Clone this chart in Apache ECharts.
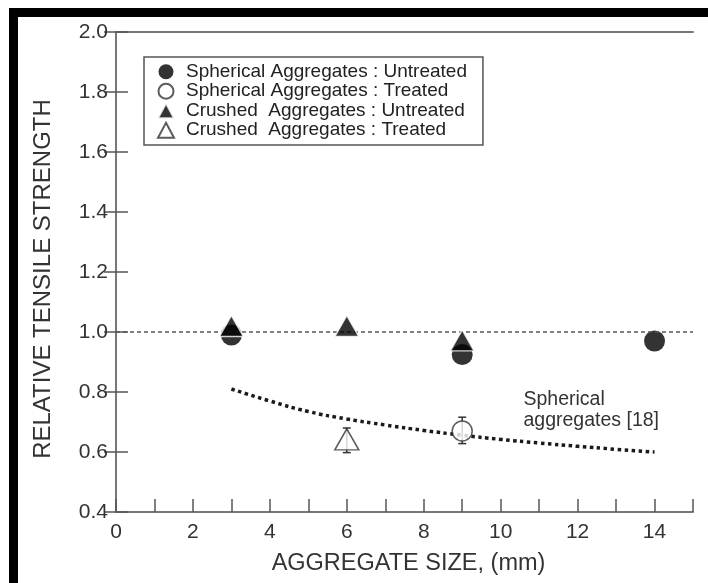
<!DOCTYPE html>
<html>
<head>
<meta charset="utf-8">
<script src="https://cdn.jsdelivr.net/npm/echarts@6/dist/echarts.min.js"></script>
<style>
  html, body { margin: 0; padding: 0; background: #fff; }
  #chart { width: 708px; height: 583px; }
</style>
</head>
<body>
<div id="chart"></div>
<script>
// Aggregate sizes (mm) and relative tensile strength for each test group
const sphericalUntreatedX = [3, 9, 14];
const sphericalUntreatedY = [0.99, 0.925, 0.97];

const sphericalTreatedX = [9];
const sphericalTreatedY = [0.67];
const sphericalTreatedLow = [0.628];
const sphericalTreatedHigh = [0.716];

const crushedUntreatedX = [3, 6, 9];
const crushedUntreatedY = [1.02, 1.02, 0.972];

const crushedTreatedX = [6];
const crushedTreatedY = [0.642];
const crushedTreatedLow = [0.598];
const crushedTreatedHigh = [0.68];

// Reference curve for spherical aggregates [18]
const refCurveX = [3, 4, 5, 6, 7, 8, 9, 10, 11, 12, 13, 14];
const refCurveY = [0.81, 0.77, 0.735, 0.71, 0.69, 0.672, 0.656, 0.642, 0.63, 0.619, 0.609, 0.6];

const referenceLevel = 1.0;

const xTicks = [0, 2, 4, 6, 8, 10, 12, 14];

const seriesNames = [
  'Spherical Aggregates : Untreated',
  'Spherical Aggregates : Treated',
  'Crushed  Aggregates : Untreated',
  'Crushed  Aggregates : Treated'
];

const zip = (xs, ys) => xs.map((x, i) => [x, ys[i]]);
const zip3 = (xs, lo, hi) => xs.map((x, i) => [x, lo[i], hi[i]]);

const SANS = '"Liberation Sans", Arial, sans-serif';
const AXIS_GRAY = '#777';

function errorBar(params, api) {
  const x = api.value(0);
  const lo = api.coord([x, api.value(1)]);
  const hi = api.coord([x, api.value(2)]);
  const cap = 4;
  const style = { stroke: '#333', lineWidth: 1.5 };
  return {
    type: 'group',
    children: [
      { type: 'line', shape: { x1: lo[0], y1: lo[1], x2: hi[0], y2: hi[1] }, style },
      { type: 'line', shape: { x1: lo[0] - cap, y1: lo[1], x2: lo[0] + cap, y2: lo[1] }, style },
      { type: 'line', shape: { x1: hi[0] - cap, y1: hi[1], x2: hi[0] + cap, y2: hi[1] }, style }
    ]
  };
}

const chart = echarts.init(document.getElementById('chart'), null, { renderer: 'canvas' });

chart.setOption({
  backgroundColor: '#fff',
  animation: false,
  grid: { left: 116, top: 32, width: 577, height: 480, containLabel: false },
  legend: {
    orient: 'vertical',
    left: 144,
    top: 57,
    padding: [5, 16, 5, 13],
    itemGap: 0,
    itemWidth: 16,
    itemHeight: 15,
    symbolKeepAspect: true,
    borderColor: '#555',
    borderWidth: 1.5,
    backgroundColor: '#fff',
    textStyle: {
      fontFamily: SANS, fontSize: 19, lineHeight: 19.5, color: '#222',
      padding: [0, 0, 0, 7]
    },
    data: seriesNames
  },
  xAxis: [{
    type: 'value',
    min: 0, max: 15, interval: 1,
    name: 'AGGREGATE SIZE, (mm)',
    nameLocation: 'middle',
    nameGap: 40,
    nameTextStyle: { fontFamily: SANS, fontSize: 23.5, color: '#333', padding: [0, 0, 0, 8] },
    axisLine: { show: true, lineStyle: { color: AXIS_GRAY, width: 2 } },
    axisTick: { show: true, inside: true, length: 13, lineStyle: { color: '#555', width: 1.5 } },
    axisLabel: {
      margin: 10,
      fontFamily: SANS, fontSize: 21, color: '#333',
      formatter: v => (xTicks.indexOf(v) >= 0 ? String(v) : '')
    },
    splitLine: { show: false }
  }, {
    type: 'value',
    position: 'top',
    min: 0, max: 15,
    axisLine: { show: true, lineStyle: { color: AXIS_GRAY, width: 2 } },
    axisTick: { show: false },
    axisLabel: { show: false },
    splitLine: { show: false }
  }],
  yAxis: [{
    type: 'value',
    min: 0.4, max: 2.0, interval: 0.2,
    name: 'RELATIVE TENSILE STRENGTH',
    nameLocation: 'middle',
    nameGap: 61,
    nameRotate: 90,
    nameTextStyle: { fontFamily: SANS, fontSize: 24, color: '#333', padding: [0, 14, 0, 0] },
    axisLine: { show: true, lineStyle: { color: AXIS_GRAY, width: 2 } },
    axisTick: { show: true, inside: true, length: 12, lineStyle: { color: '#555', width: 1.5 } },
    axisLabel: {
      margin: 8,
      fontFamily: SANS, fontSize: 21, color: '#333',
      formatter: v => v.toFixed(1)
    },
    splitLine: { show: false }
  }, {
    type: 'value',
    position: 'right',
    min: 0.4, max: 2.0, interval: 0.2,
    axisLine: { show: true, lineStyle: { color: AXIS_GRAY, width: 2 } },
    axisTick: { show: true, inside: true, length: 12, lineStyle: { color: '#555', width: 1.5 } },
    axisLabel: { show: false },
    splitLine: { show: false }
  }],
  graphic: [
    // black frame along the top and left edges
    { type: 'rect', shape: { x: 9, y: 8, width: 699, height: 9 }, style: { fill: '#000' }, z: 100 },
    { type: 'rect', shape: { x: 9, y: 8, width: 9, height: 575 }, style: { fill: '#000' }, z: 100 },
    {
      type: 'text',
      right: 708 - 659,
      top: 389,
      style: {
        text: 'Spherical\naggregates [18]',
        align: 'right',
        fontFamily: SANS,
        fontSize: 19.5,
        lineHeight: 21,
        fill: '#333'
      },
      z: 50
    }
  ],
  series: [
    {
      name: 'refCurve',
      type: 'line',
      data: zip(refCurveX, refCurveY),
      smooth: true,
      showSymbol: false,
      symbol: 'none',
      lineStyle: { color: '#1a1a1a', width: 3.5, type: [3.5, 3.5] },
      z: 2,
      markLine: {
        silent: true,
        symbol: 'none',
        label: { show: false },
        lineStyle: { color: '#555', width: 1.5, type: [4, 3] },
        data: [{ yAxis: referenceLevel }]
      }
    },
    {
      name: 'sphTreatedErr',
      type: 'custom',
      renderItem: errorBar,
      data: zip3(sphericalTreatedX, sphericalTreatedLow, sphericalTreatedHigh),
      z: 3
    },
    {
      name: 'crTreatedErr',
      type: 'custom',
      renderItem: errorBar,
      data: zip3(crushedTreatedX, crushedTreatedLow, crushedTreatedHigh),
      z: 3
    },
    {
      name: seriesNames[0],
      type: 'scatter',
      symbol: 'circle',
      symbolSize: 21,
      data: zip(sphericalUntreatedX, sphericalUntreatedY),
      itemStyle: { color: '#000' },
      z: 4
    },
    {
      name: seriesNames[1],
      type: 'scatter',
      symbol: 'circle',
      symbolSize: 20,
      data: zip(sphericalTreatedX, sphericalTreatedY),
      itemStyle: { color: '#fff', borderColor: '#333', borderWidth: 1.5 },
      z: 5
    },
    {
      name: seriesNames[2],
      type: 'scatter',
      symbol: 'triangle',
      symbolSize: [24, 21],
      data: zip(crushedUntreatedX, crushedUntreatedY),
      itemStyle: { color: '#000', borderColor: '#fff', borderWidth: 1.5 },
      z: 6
    },
    {
      name: seriesNames[3],
      type: 'scatter',
      symbol: 'triangle',
      symbolSize: [24, 21],
      data: zip(crushedTreatedX, crushedTreatedY),
      itemStyle: { color: '#fff', borderColor: '#333', borderWidth: 1.5 },
      z: 5
    }
  ]
});
</script>
</body>
</html>
